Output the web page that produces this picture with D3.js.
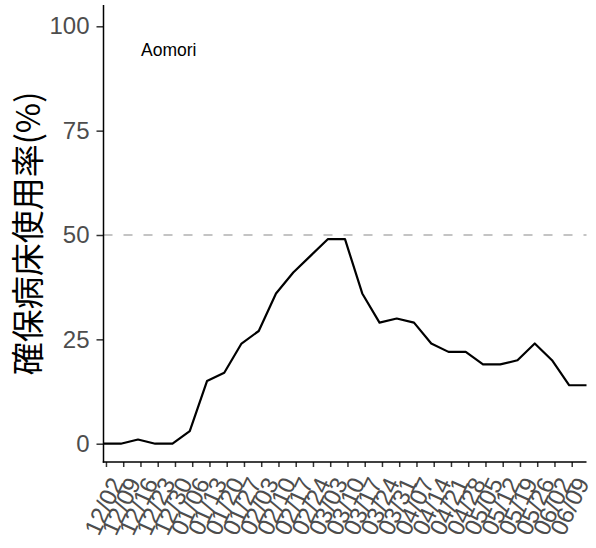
<!DOCTYPE html>
<html><head><meta charset="utf-8">
<script src="https://cdn.jsdelivr.net/npm/d3@7"></script>
<style>body{margin:0;background:#fff}</style>
</head><body>
<svg id="c" width="596" height="548"></svg>
<script>
const prefecture = "Aomori";
const yTitle = "確保病床使用率(%)";
const startDate = "2020-12-01";
const values = [0,0,1,0,0,3,15,17,24,27,36,41,45,49,49,36,29,30,29,24,22,22,19,19,20,24,20,14,14];
const tickLabels = ["12/02","12/09","12/16","12/23","12/30","01/06","01/13","01/20","01/27","02/03","02/10","02/17","02/24","03/03","03/10","03/17","03/24","03/31","04/07","04/14","04/21","04/28","05/05","05/12","05/19","05/26","06/02","06/09"];
const yTicks = [0,25,50,75,100];
const refLine = 50;

const parse = d3.timeParse("%Y-%m-%d");
const t0 = parse(startDate);
const day = 86400000;
const data = values.map((v,i)=>({date:new Date(t0.getTime()+i*7*day), v}));
const tickDates = tickLabels.map((l,i)=>new Date(t0.getTime()+(1+i*7)*day));

const svg = d3.select("#c");
const L=103.5, R=586.5, T=5, B=462;
const x = d3.scaleTime().domain([data[0].date, data[data.length-1].date]).range([L,R]);
const y = d3.scaleLinear().domain([0,100]).range([443.7,26.3]);
const font = "'Liberation Sans',Arial,sans-serif";

// reference dashed line
svg.append("line").attr("x1",L).attr("x2",R).attr("y1",y(refLine)).attr("y2",y(refLine))
  .attr("stroke","#c4c4c4").attr("stroke-width",2).attr("stroke-dasharray","9,11");

// line
svg.append("path").datum(data)
  .attr("d", d3.line().x(d=>x(d.date)).y(d=>y(d.v)))
  .attr("fill","none").attr("stroke","#000").attr("stroke-width",2.2).attr("stroke-linejoin","round");

// y axis
const ya = svg.append("g").attr("transform",`translate(${L},0)`)
  .call(d3.axisLeft(y).tickValues(yTicks).tickSize(7).tickPadding(7).tickFormat(d3.format("d")));
ya.select(".domain").remove();
ya.selectAll(".tick line").attr("stroke","#333").attr("stroke-width",1.5);
ya.selectAll("text").attr("fill","#4d4d4d").style("font-family",font).style("font-size","24px");
svg.append("line").attr("x1",L).attr("x2",L).attr("y1",T).attr("y2",B+0.75).attr("stroke","#000").attr("stroke-width",1.5);

// x axis
const xa = svg.append("g").attr("transform",`translate(0,${B})`)
  .call(d3.axisBottom(x).tickValues(tickDates).tickSize(5).tickFormat((d,i)=>tickLabels[i]));
xa.select(".domain").remove();
xa.selectAll(".tick line").attr("stroke","#333").attr("stroke-width",1.5);
xa.selectAll("text").attr("fill","#4d4d4d").style("font-family",font).style("font-size","24px")
  .attr("text-anchor","end").attr("x",0).attr("y",0).attr("dy","0.35em")
  .attr("transform","translate(10,17) rotate(-65)");
svg.append("line").attr("x1",L-0.75).attr("x2",R).attr("y1",B).attr("y2",B).attr("stroke","#000").attr("stroke-width",1.5);

// y title
svg.append("text").attr("transform",`translate(40,${(T+B)/2}) rotate(-90)`)
  .attr("text-anchor","middle").style("font-family","'Noto Sans CJK JP',sans-serif").style("font-size","33px")
  .attr("fill","#000").text(yTitle);

// label
svg.append("text").attr("x",141).attr("y",56).style("font-family",font).style("font-size","17.5px").attr("fill","#000").text(prefecture);
</script>
</body></html>
